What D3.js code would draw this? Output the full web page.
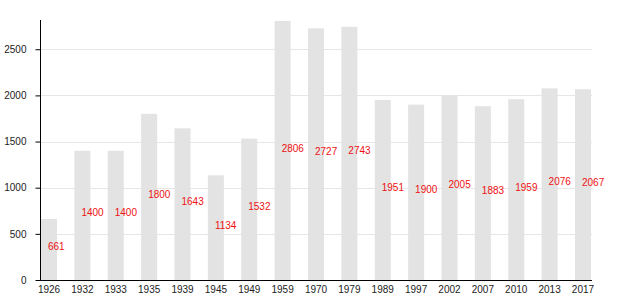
<!DOCTYPE html>
<html><head><meta charset="utf-8">
<script src="https://cdn.jsdelivr.net/npm/d3@7"></script>
<style>body{margin:0;background:#fff}svg{display:block}text{font-family:"Liberation Sans",Arial,sans-serif}</style>
</head><body>
<svg id="c" width="630" height="300"></svg>
<script>
const years = ["1926","1932","1933","1935","1939","1945","1949","1959","1970","1979","1989","1997","2002","2007","2010","2013","2017"];
const population = [661,1400,1400,1800,1643,1134,1532,2806,2727,2743,1951,1900,2005,1883,1959,2076,2067];
const yTicks = [0,500,1000,1500,2000,2500];

const svg = d3.select("#c");
const x = d3.scaleBand().domain(years).range([41, 591]).paddingInner(0.52).paddingOuter(0);
const y = d3.scaleLinear().domain([0, d3.max(population)]).range([280, 21]);

svg.append("g").selectAll("line").data(yTicks.filter(d=>d>0)).join("line")
  .attr("x1", 41).attr("x2", 592).attr("y1", d=>Math.round(y(d))+0.5).attr("y2", d=>Math.round(y(d))+0.5)
  .attr("stroke", "#e6e6e6").attr("stroke-width", 1);

svg.append("g").selectAll("rect").data(population).join("rect")
  .attr("x", (d,i)=>x(years[i])).attr("width", x.bandwidth())
  .attr("y", d=>y(d)).attr("height", d=>280-y(d))
  .attr("fill", "#e3e3e3");

svg.append("g").selectAll("text").data(population).join("text")
  .attr("x", (d,i)=>x(years[i]) + x.bandwidth()/2 - 1)
  .attr("y", d=>(y(d)+280)/2 + 1)
  .attr("fill", "#ee1111").attr("font-size", 10)
  .text(d=>d);

const yAxis = svg.append("g").attr("transform","translate(40.5,0)")
  .call(d3.axisLeft(y).tickValues(yTicks).tickFormat(d3.format("d")).tickSize(5).tickPadding(9));
yAxis.select(".domain").attr("d","M0,20V280");
yAxis.selectAll("text").attr("font-size",10).attr("font-family","Liberation Sans, Arial, sans-serif").attr("fill","#222");

const xAxis = svg.append("g").attr("transform","translate(0,280.5)")
  .call(d3.axisBottom(x).tickSize(0).tickPadding(5));
xAxis.select(".domain").attr("d","M40,0H592").attr("stroke","#000");
xAxis.selectAll("text").attr("font-size",10).attr("font-family","Liberation Sans, Arial, sans-serif").attr("fill","#222");
</script>
</body></html>
